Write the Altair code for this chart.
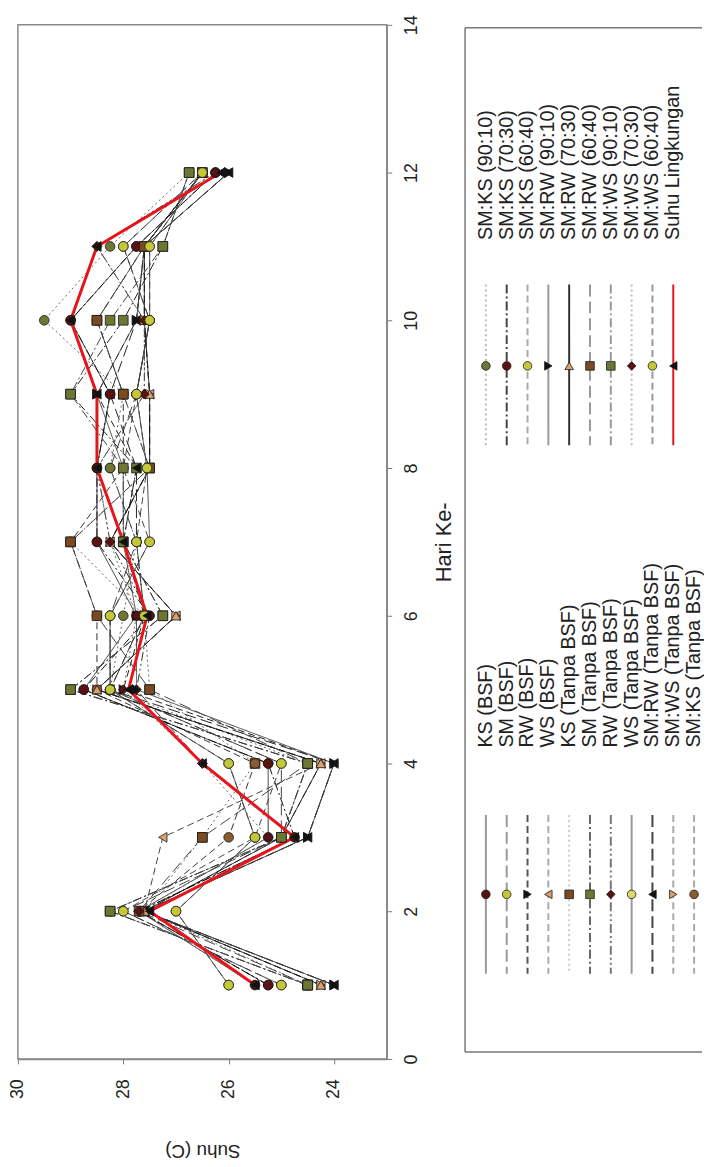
import altair as alt
import pandas as pd

# ---------------- data ----------------
days = [1, 2, 3, 4, 5, 6, 7, 8, 9, 10, 11, 12]

series_names = [
    "KS (BSF)", "SM (BSF)", "RW (BSF)", "WS (BSF)",
    "KS (Tanpa BSF)", "SM (Tanpa BSF)", "RW (Tanpa BSF)", "WS (Tanpa BSF)",
    "SM:RW (Tanpa BSF)", "SM:WS (Tanpa BSF)", "SM:KS (Tanpa BSF)",
    "SM:KS (90:10)", "SM:KS (70:30)", "SM:KS (60:40)",
    "SM:RW (90:10)", "SM:RW (70:30)", "SM:RW (60:40)",
    "SM:WS (90:10)", "SM:WS (70:30)", "SM:WS (60:40)",
    "Suhu Lingkungan",
]

ks_bsf      = [25.5, 27.7, 25.25, 25.25, 28.75, 27.75, 28.5, 28.5, 28.25, 29.0, 27.75, 26.25]
sm_bsf      = [25.0, 28.0, 25.0, 25.0, 28.25, 28.25, 27.75, 28.25, 27.75, 27.5, 28.0, 26.5]
rw_bsf      = [24.0, 27.6, 24.5, 24.0, 28.0, 27.6, 28.0, 27.75, 28.5, 27.75, 27.6, 26.0]
ws_bsf      = [24.25, 27.6, 27.25, 24.25, 28.5, 27.0, 28.25, 27.5, 27.5, 27.6, 27.6, 26.5]
ks_tanpa    = [24.5, 27.6, 26.5, 25.5, 27.5, 27.6, 29.0, 27.5, 28.0, 28.5, 27.6, 26.5]
sm_tanpa    = [24.5, 28.25, 25.0, 24.5, 29.0, 27.25, 28.0, 27.75, 29.0, 28.0, 27.25, 26.75]
rw_tanpa    = [25.25, 27.7, 24.75, 26.5, 27.75, 27.5, 28.25, 28.5, 27.6, 27.6, 28.5, 26.25]
ws_tanpa    = [26.0, 27.0, 25.5, 26.0, 28.25, 28.25, 27.5, 27.55, 27.75, 27.5, 27.5, 26.5]
smrw_tanpa  = [24.0, 27.6, 24.5, 24.0, 28.25, 27.6, 27.75, 27.75, 28.25, 27.75, 27.6, 26.0]
smws_tanpa  = [24.25, 27.6, 25.0, 24.25, 28.5, 27.0, 28.25, 27.5, 27.5, 27.6, 27.6, 26.5]
smks_tanpa  = [25.25, 27.7, 26.0, 25.5, 28.5, 28.5, 29.0, 28.0, 28.0, 28.5, 27.6, 26.5]
smks_90     = [24.5, 28.25, 25.0, 24.5, 28.25, 28.0, 27.75, 28.25, 28.0, 29.5, 28.25, 26.75]
smks_70     = [25.25, 27.7, 24.75, 25.25, 28.75, 27.5, 28.5, 28.5, 28.25, 29.0, 27.75, 26.25]
smks_60     = [25.0, 28.0, 25.5, 25.0, 28.25, 28.25, 27.5, 28.0, 27.75, 27.5, 28.0, 26.5]
smrw_90     = [24.0, 27.6, 24.5, 24.0, 27.75, 27.75, 28.0, 28.0, 28.5, 27.75, 27.6, 26.0]
smrw_70     = [24.25, 27.6, 25.0, 24.25, 28.5, 27.0, 28.25, 27.5, 27.5, 27.6, 27.6, 26.5]
smrw_60     = [24.5, 27.7, 26.5, 24.5, 27.5, 28.5, 29.0, 27.5, 28.0, 28.5, 27.6, 26.5]
smws_90     = [24.5, 28.25, 25.0, 24.5, 29.0, 27.25, 28.0, 28.0, 29.0, 28.25, 27.25, 26.75]
smws_70     = [25.5, 27.7, 25.25, 26.5, 28.0, 27.75, 28.25, 28.5, 27.6, 27.6, 28.5, 26.25]
smws_60     = [26.0, 27.0, 25.5, 26.0, 28.25, 27.6, 27.75, 27.55, 27.75, 27.5, 27.5, 26.5]
suhu_lingkungan = [25.5, 27.5, 24.75, 26.5, 27.9, 27.55, 28.0, 28.5, 28.5, 29.0, 28.5, 26.15]

series_values = [
    ks_bsf, sm_bsf, rw_bsf, ws_bsf, ks_tanpa, sm_tanpa, rw_tanpa, ws_tanpa,
    smrw_tanpa, smws_tanpa, smks_tanpa, smks_90, smks_70, smks_60,
    smrw_90, smrw_70, smrw_60, smws_90, smws_70, smws_60, suhu_lingkungan,
]

# ---------------- styles ----------------
DR, YG, OL, BR, TAN, BK, LY, BC = ("#5a1212", "#c4c838", "#6e7634", "#7a4a22",
                                   "#d9a070", "#111111", "#d8d86a", "#8a5a30")
fills = [DR, YG, BK, TAN, BR, OL, DR, LY, BK, TAN, BC,
         OL, DR, YG, BK, TAN, BR, OL, DR, YG, BK]
shapes = ["circle", "circle", "triangle-right", "triangle-left", "square", "square",
          "diamond", "circle", "triangle-left", "triangle-right", "circle",
          "circle", "circle", "circle", "triangle-right", "triangle-up", "square",
          "square", "diamond", "circle", "triangle-left"]
SOLID, LDASH, DASH, DOT, DDOT, DDDOT = [1, 0], [12, 5], [7, 4], [2, 3], [9, 3, 2, 3], [9, 3, 2, 3, 2, 3]
dashes = [SOLID, LDASH, DASH, DASH, DOT, DDOT, DDDOT, SOLID, LDASH, DASH, DASH,
          DOT, DDOT, DASH, SOLID, SOLID, LDASH, DDOT, DOT, DASH, SOLID]
line_colors = ["#333333", "#444444", "#222222", "#444444", "#666666", "#222222",
               "#333333", "#444444", "#222222", "#444444", "#333333",
               "#666666", "#111111", "#444444", "#444444", "#111111", "#444444",
               "#444444", "#666666", "#444444", "#e8141c"]
legend_line_colors = ["#999999", "#999999", "#555555", "#aaaaaa", "#cccccc", "#666666",
                      "#777777", "#999999", "#444444", "#aaaaaa", "#aaaaaa",
                      "#bbbbbb", "#444444", "#aaaaaa", "#999999", "#333333", "#999999",
                      "#999999", "#bbbbbb", "#999999", "#e8141c"]
RED = "#e8141c"
FONT = "Liberation Sans"

rows = []
for name, vals in zip(series_names, series_values):
    for d, v in zip(days, vals):
        rows.append({"series": name, "day": d, "temp": v})
df = pd.DataFrame(rows)
df_treat = df[df["series"] != "Suhu Lingkungan"]
df_env = df[df["series"] == "Suhu Lingkungan"]

treat_names = series_names[:-1]

x_scale = alt.Scale(domain=[23, 30], reverse=True, nice=False, zero=False)
y_scale = alt.Scale(domain=[0, 14], nice=False, zero=False)

x_axis = alt.Axis(
    values=[24, 26, 28, 30], orient="bottom", title="Suhu (C)", grid=False,
    labelAngle=270, labelAlign="right", labelBaseline="middle", labelPadding=15,
    labelFlush=False, labelOverlap=False, tickSize=5, tickColor="#777",
    domainColor="#888", domainWidth=1.5, labelFont=FONT, labelFontSize=18,
    labelColor="#222", titleFont=FONT, titleFontSize=19, titleFontWeight="normal",
    titleColor="#222", titleAngle=180, titleBaseline="bottom", titleY=82,
)
y_axis = alt.Axis(
    values=[0, 2, 4, 6, 8, 10, 12, 14], orient="right", title="Hari Ke-", grid=False,
    labelAngle=270, labelAlign="center", labelBaseline="top", labelPadding=11,
    labelFlush=False, labelOverlap=False, tickSize=5, tickColor="#777",
    domainColor="#888", domainWidth=1.5, labelFont=FONT, labelFontSize=18,
    labelColor="#222", titleFont=FONT, titleFontSize=22, titleFontWeight="normal",
    titleColor="#222", titleAngle=270, titleBaseline="top", titleX=47,
)

X = alt.X("temp:Q", scale=x_scale, axis=x_axis)
Y = alt.Y("day:Q", scale=y_scale, axis=y_axis)

lines = alt.Chart(df_treat).mark_line(strokeWidth=1).encode(
    x=X, y=Y, order=alt.Order("day:Q"),
    detail="series:N",
    color=alt.Color("series:N", scale=alt.Scale(domain=treat_names, range=line_colors[:-1]), legend=None),
    strokeDash=alt.StrokeDash("series:N", scale=alt.Scale(domain=treat_names, range=dashes[:-1]), legend=None),
)
red = alt.Chart(df_env).mark_line(strokeWidth=3, color=RED).encode(
    x=X, y=Y, order=alt.Order("day:Q"),
)
points = alt.Chart(df).mark_point(filled=True, size=95, stroke="#1a1a1a", strokeWidth=0.8, opacity=1).encode(
    x=X, y=Y,
    fill=alt.Fill("series:N", scale=alt.Scale(domain=series_names, range=fills), legend=None),
    shape=alt.Shape("series:N", scale=alt.Scale(domain=series_names, range=shapes), legend=None),
)

main = alt.layer(lines, red, points).properties(width=372, height=1043)

# ---------------- legend panel (in panel units) ----------------
LW, LH = 239, 1043
leg_rows = []
for i, name in enumerate(series_names):
    if i < 11:
        slot, sym_y, ly1, ly2, ty = i, 877, 797, 957, 729
    else:
        slot, sym_y, ly1, ly2, ty = i - 11, 344, 262, 424, 217
    leg_rows.append({"series": name, "lx": 21 + 21 * slot, "sy": sym_y,
                     "ly1": ly1, "ly2": ly2, "ty": ty})
leg = pd.DataFrame(leg_rows)

lx_scale = alt.Scale(domain=[0, LW], nice=False, zero=False)
ly_scale = alt.Scale(domain=[0, LH], reverse=True, nice=False, zero=False)
LX = alt.X("lx:Q", scale=lx_scale, axis=None)

box = pd.DataFrame({"x": [0, 0, 0], "x2": [0, LW, LW], "y": [3, 3, 1036], "y2": [1036, 3, 1036]})
box_layer = alt.Chart(box).mark_rule(color="#777", strokeWidth=1.5).encode(
    x=alt.X("x:Q", scale=lx_scale, axis=None), x2="x2:Q",
    y=alt.Y("y:Q", scale=ly_scale, axis=None), y2="y2:Q",
)
leg_lines = alt.Chart(leg).mark_rule(strokeWidth=2).encode(
    x=LX, y=alt.Y("ly1:Q", scale=ly_scale, axis=None), y2="ly2:Q",
    color=alt.Color("series:N", scale=alt.Scale(domain=series_names, range=legend_line_colors), legend=None),
    strokeDash=alt.StrokeDash("series:N", scale=alt.Scale(domain=series_names, range=dashes), legend=None),
)
leg_pts = alt.Chart(leg).mark_point(filled=True, size=75, stroke="#1a1a1a", strokeWidth=0.8, opacity=1).encode(
    x=LX, y=alt.Y("sy:Q", scale=ly_scale, axis=None),
    fill=alt.Fill("series:N", scale=alt.Scale(domain=series_names, range=fills), legend=None),
    shape=alt.Shape("series:N", scale=alt.Scale(domain=series_names, range=shapes), legend=None),
)
leg_text = alt.Chart(leg).mark_text(angle=270, align="left", baseline="middle",
                                    font=FONT, fontSize=20, color="#222").encode(
    x=LX, y=alt.Y("ty:Q", scale=ly_scale, axis=None), text="series:N",
)
legend_panel = alt.layer(box_layer, leg_lines, leg_pts, leg_text).properties(
    width=LW, height=LH, view=alt.ViewBackground(strokeOpacity=0)
).resolve_scale(color="independent")

chart = alt.hconcat(main, legend_panel, spacing=9).resolve_scale(
    x="independent", y="independent"
).properties(
    padding={"left": 0, "top": 1, "right": 0, "bottom": 0}
).configure_view(stroke="#888", strokeWidth=1.5)

chart.save("out.html", embed_options={"renderer": "svg", "actions": False})
